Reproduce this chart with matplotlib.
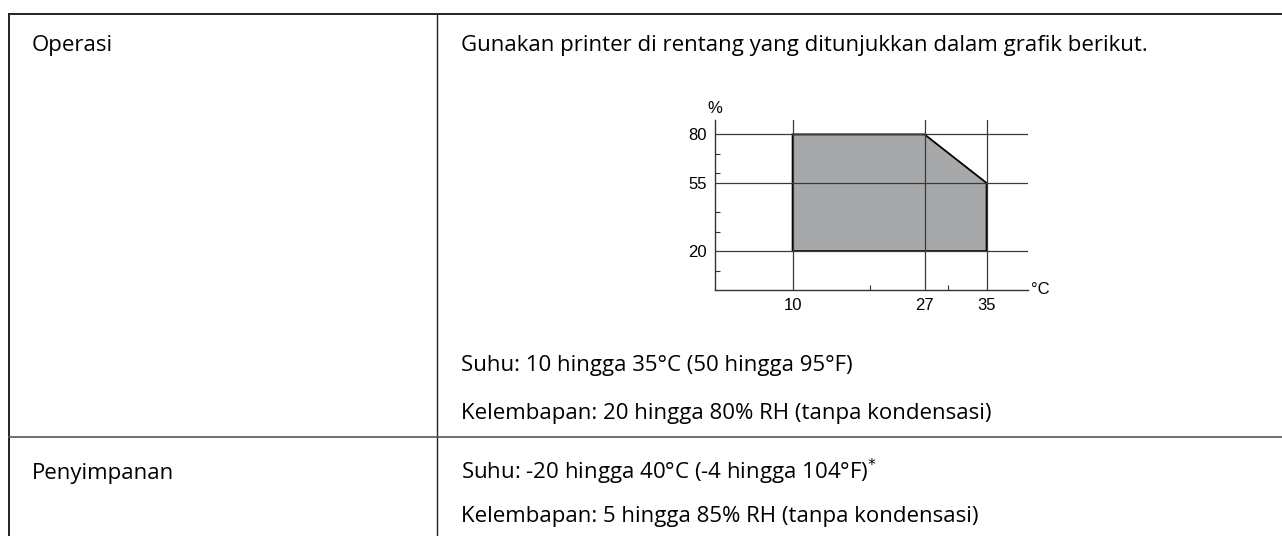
import matplotlib
matplotlib.use("Agg")
import matplotlib.pyplot as plt
from matplotlib.patches import Polygon

# operating range polygon (temperature degC, humidity %)
temp = [10, 10, 27, 35, 35]
hum = [20, 80, 80, 55, 20]
xticks = [10, 27, 35]
yticks = [20, 55, 80]
xminor = [20, 30]
yminor = [10, 30, 40, 60, 70]

left_col = ["Operasi", "Penyimpanan"]
right_text = [
    "Gunakan printer di rentang yang ditunjukkan dalam grafik berikut.",
    "Suhu: 10 hingga 35°C (50 hingga 95°F)",
    "Kelembapan: 20 hingga 80% RH (tanpa kondensasi)",
    "Suhu: -20 hingga 40°C (-4 hingga 104°F)$^{*}$",
    "Kelembapan: 5 hingga 85% RH (tanpa kondensasi)",
]

W, H = 1282, 536
fig = plt.figure(figsize=(W / 100, H / 100), dpi=100)
txtfont = ["Open Sans", "DejaVu Sans"]
fs = 16.0

# table background
bg = fig.add_axes([0, 0, 1, 1])
bg.set_xlim(0, W)
bg.set_ylim(H, 0)
bg.axis("off")
lc = "#222222"
bg.plot([8.5, W + 5], [13.5, 13.5], color=lc, lw=1.4)
bg.plot([8.5, 8.5], [13.5, H + 5], color=lc, lw=1.4)
bg.plot([437, 437], [13.5, H + 5], color=lc, lw=1.0)
bg.plot([8.5, W + 5], [437, 437], color="#555555", lw=1.2)

bg.text(32, 51.5, left_col[0], fontsize=fs, family=txtfont, va="baseline")
bg.text(32, 479.5, left_col[1], fontsize=fs, family=txtfont, va="baseline")
baselines = [51.5, 371.5, 419.3, 479.3, 521.7]
for t, b in zip(right_text, baselines):
    bg.text(461, b, t, fontsize=fs, family=txtfont, va="baseline")

# chart
px_deg = 7.76
px_pct = 1.945
x0, y0 = 715, 290
xmax, ymax = 40.3, 87.4
ax = fig.add_axes([x0 / W, 1 - y0 / H, xmax * px_deg / W, ymax * px_pct / H])
ax.set_xlim(0, xmax)
ax.set_ylim(0, ymax)
gc = "#3a3a3a"
ax.add_patch(Polygon(list(zip(temp, hum)), closed=True, facecolor="#a7a8aa",
                     edgecolor="black", lw=1.3, zorder=2))
for y in yticks:
    ax.axhline(y, color=gc, lw=0.9, zorder=3)
for x in xticks:
    ax.axvline(x, color=gc, lw=0.9, zorder=3)
for s in ["top", "right"]:
    ax.spines[s].set_visible(False)
for s in ["left", "bottom"]:
    ax.spines[s].set_color("#333333")
    ax.spines[s].set_linewidth(1.0)

tickfont = ["Liberation Sans Narrow", "Liberation Sans", "DejaVu Sans"]
tfs = 12
ax.set_xticks(xticks)
ax.set_yticks(yticks)
ax.set_xticklabels([str(v) for v in xticks], family=tickfont, fontsize=tfs)
ax.set_yticklabels([str(v) for v in yticks], family=tickfont, fontsize=tfs)
ax.set_xticks(xminor, minor=True)
ax.set_yticks(yminor, minor=True)
ax.tick_params(which="major", length=0, pad=6)
ax.tick_params(which="minor", direction="in", length=3.5, width=0.8, color="#333333")
ax.text(0, ymax + 6, "%", ha="center", va="center", family=tickfont, fontsize=tfs)
ax.text(xmax + 0.4, 0, "°C", ha="left", va="center", family=tickfont, fontsize=tfs)

fig.savefig("out.png", dpi=100)
